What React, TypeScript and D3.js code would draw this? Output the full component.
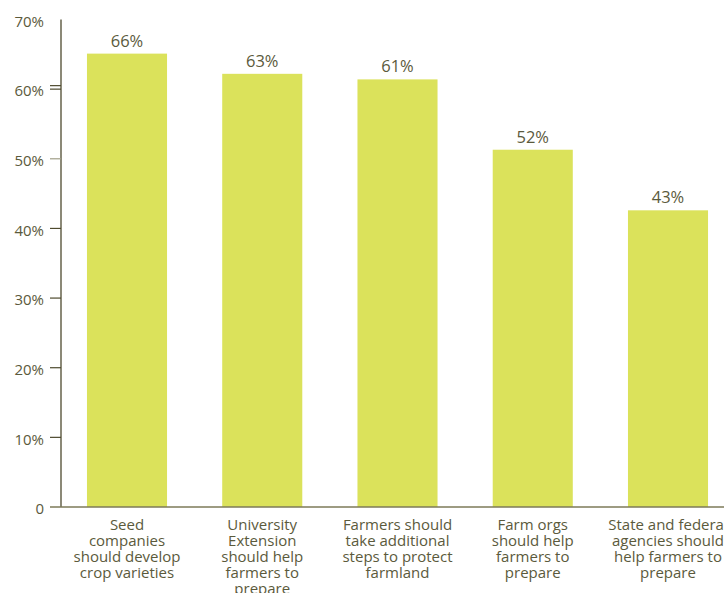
import React from "react";
import * as d3 from "d3";

const categories: string[][] = [
  ["Seed", "companies", "should develop", "crop varieties"],
  ["University", "Extension", "should help", "farmers to", "prepare"],
  ["Farmers should", "take additional", "steps to protect", "farmland"],
  ["Farm orgs", "should help", "farmers to", "prepare"],
  ["State and federal", "agencies should", "help farmers to", "prepare"],
];
const barValues: number[] = [65.1, 62.2, 61.4, 51.3, 42.6];
const valueLabels: string[] = ["66%", "63%", "61%", "52%", "43%"];
const yTicks: number[] = [0, 10, 20, 30, 40, 50, 60, 70];
const yTickLabels: string[] = ["0", "10%", "20%", "30%", "40%", "50%", "60%", "70%"];

const W = 724;
const H = 593;
const FONT = "'Open Sans', 'Noto Sans', sans-serif";
const TEXT = "#5b5a3c";
const AXIS = "#4e4a2e";
const BAR = "#dbe25b";

export default function App() {
  const axisX = 61;
  const y = d3.scaleLinear().domain([0, 70]).range([507, 19.5]);
  const x = d3
    .scaleBand<number>()
    .domain(d3.range(categories.length))
    .range([axisX, axisX + 135.25 * 4.976])
    .paddingInner(0.408)
    .paddingOuter(0.192);
  const bw = x.bandwidth();

  return (
    <svg
      width={W}
      height={H}
      style={{ position: "absolute", left: 0, top: 0, background: "#fff" }}
      fontFamily={FONT}
    >
      {/* bars */}
      {barValues.map((v, i) => (
        <rect
          key={"b" + i}
          x={x(i)!}
          y={y(v)}
          width={bw}
          height={y(0) - y(v)}
          fill={BAR}
        />
      ))}
      {/* value labels */}
      {barValues.map((v, i) => (
        <text
          key={"v" + i}
          x={x(i)! + bw / 2}
          y={y(v) - 7}
          textAnchor="middle"
          fontSize={16.5}
          fill={TEXT}
        >
          {valueLabels[i]}
        </text>
      ))}
      {/* y axis line */}
      <line x1={axisX} x2={axisX} y1={y(70)} y2={y(0)} stroke={AXIS} strokeWidth={1.3} />
      {/* x axis line */}
      <line x1={50} x2={W} y1={y(0)} y2={y(0)} stroke="#7d7a58" strokeWidth={1.3} />
      {/* ticks */}
      {yTicks.map((t, i) => (
        <g key={"t" + i}>
          {t > 0 && t < 70 && (
            <line
              x1={50}
              x2={axisX}
              y1={y(t)}
              y2={y(t)}
              stroke={t === 50 ? "#a09e88" : AXIS}
              strokeWidth={1.2}
            />
          )}
          {t === 60 && (
            <line x1={50} x2={axisX} y1={y(t) - 3.5} y2={y(t) - 3.5} stroke={AXIS} strokeWidth={1.2} />
          )}
          <text
            x={44}
            y={y(t) + 2}
            dy="0.35em"
            textAnchor="end"
            fontSize={15}
            fill={TEXT}
          >
            {yTickLabels[i]}
          </text>
        </g>
      ))}
      {/* category labels */}
      {categories.map((lines, i) => (
        <text
          key={"c" + i}
          x={x(i)! + bw / 2}
          y={530}
          textAnchor="middle"
          fontSize={15}
          fill={TEXT}
        >
          {lines.map((l, j) => (
            <tspan key={j} x={x(i)! + bw / 2} y={530 + j * 16}>
              {l}
            </tspan>
          ))}
        </text>
      ))}
    </svg>
  );
}
